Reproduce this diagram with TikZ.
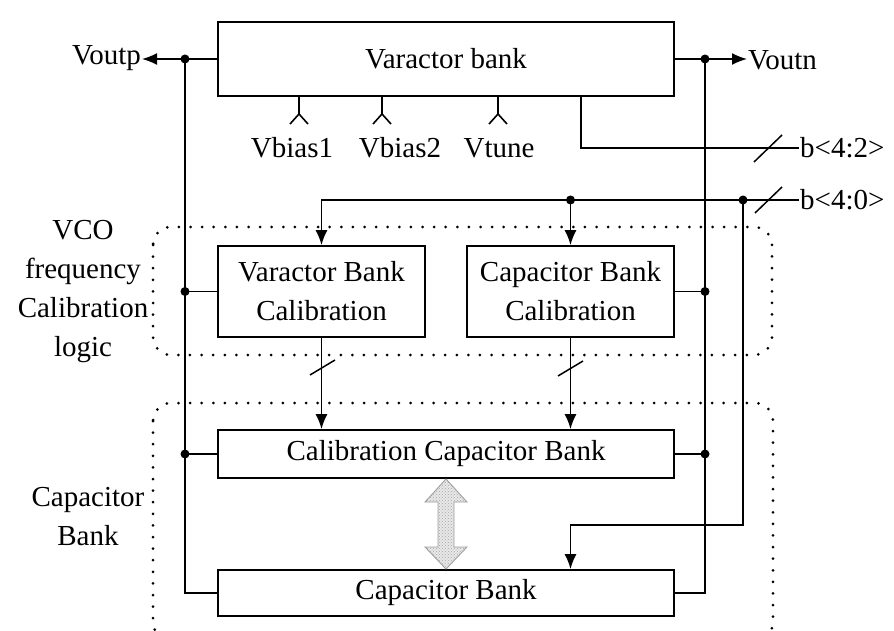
\documentclass[tikz,border=0pt]{standalone}
\usepackage{fontspec}
\setmainfont{Liberation Serif}
\newfontfamily\labelfont{Liberation Serif}
\usetikzlibrary{arrows.meta,calc,patterns}
\begin{document}
\begin{tikzpicture}[x=1pt,y=-1pt,
  txt/.style={font=\labelfont\fontsize{29}{39}\selectfont,inner sep=1pt,align=center},
  blk/.style={txt,draw,line width=1.8pt,inner sep=0pt},
  wire/.style={line width=1.6pt},
  arr/.style={wire,-{Latex[length=15pt,width=12pt]}},
  region/.style={line width=3pt,line cap=round,dash pattern=on 0pt off 11.6pt,rounded corners=18pt},
  slash/.style={line width=1.5pt}]
\useasboundingbox (0,0) rectangle (894,631);

% dotted grouping regions
\begin{scope}
  \clip (0,0) rectangle (894,631);
  \draw[region] (153,227) rectangle (772,355);
  \draw[region] (153,403) rectangle (773,640);
\end{scope}

% blocks
\node[blk,minimum width=456pt,minimum height=74pt] (VB)  at (446,59)   {Varactor bank};
\node[blk,minimum width=207pt,minimum height=91pt] (VBC) at (321.5,291.5) {Varactor Bank\\Calibration};
\node[blk,minimum width=207pt,minimum height=91pt] (CBC) at (570.5,291.5) {Capacitor Bank\\Calibration};
\node[blk,minimum width=456pt,minimum height=48pt] (CCB) at (446,454)  {Calibration Capacitor Bank};
\node[blk,minimum width=456pt,minimum height=46pt] (CB)  at (446,593)  {Capacitor Bank};

% group labels
\node[txt] (lblVCO) at (83,292) {VCO\\frequency\\Calibration\\logic};
\node[txt] (lblCap) at (88,517) {Capacitor\\Bank};

% outputs
\node[txt,anchor=east] (voutp) at (142,58) {Voutp};
\node[txt,anchor=west] (voutn) at (747,60) {Voutn};
\coordinate (dL) at (185,59);
\coordinate (dR) at (705,59);
\draw[arr] (VB.west) -- (voutp.east |- VB.west);
\draw[arr] (VB.east) -- (voutn.west |- VB.east);

% left output bus
\draw[wire] (dL) |- (CB.west);
\draw[wire] (VBC.west) -- (VBC.west -| dL);
\draw[wire] (CCB.west) -- (CCB.west -| dL);
\fill (dL) circle (4.5pt);
\fill (VBC.west -| dL) circle (4.5pt);
\fill (CCB.west -| dL) circle (4.5pt);

% right output bus
\draw[wire] (dR) |- (CB.east);
\draw[wire] (CBC.east) -- (CBC.east -| dR);
\draw[wire] (CCB.east) -- (CCB.east -| dR);
\fill (dR) circle (4.5pt);
\fill (CBC.east -| dR) circle (4.5pt);
\fill (CCB.east -| dR) circle (4.5pt);

% bias inputs
\foreach \x/\name/\lx in {299/Vbias1/292, 382/Vbias2/400, 498/Vtune/499}{
  \draw[wire] (\x,96) -- (\x,114) -- (\x-9,124);
  \draw[wire] (\x,114) -- (\x+9,124);
  \node[txt] at (\lx,148) {\name};
}

% control words
\node[txt,anchor=west] (b42) at (799,148) {b<4:2>};
\node[txt,anchor=west] (b40) at (799,200) {b<4:0>};
\coordinate (t42) at (581,96);
\draw[wire] (t42) |- (b42.west);
\draw[arr] (b40.west) -| (VBC.north);
\draw[arr] (CBC.north |- b40.west) -- (CBC.north);
\fill (CBC.north |- b40.west) circle (4.5pt);
\coordinate (d40) at (743,200);
\coordinate (turn) at (743,525);
\fill (d40) circle (4.5pt);
\draw[arr] (d40) -- (turn) -| (CB.north -| CBC.south);

% calibration buses into the calibration capacitor bank
\draw[arr] (VBC.south) -- (VBC.south |- CCB.north);
\draw[arr] (CBC.south) -- (CBC.south |- CCB.north);

% bus-width ticks
\coordinate (s42) at (768,148);
\coordinate (s40) at (768,200);
\coordinate (s1) at (322,368);
\coordinate (s2) at (570,369);
\draw[slash] ($(s42)+(-14,14)$) -- ($(s42)+(14,-13)$);
\draw[slash] ($(s40)+(-13,13)$) -- ($(s40)+(14,-13)$);
\draw[slash] ($(s1)+(-12,7)$) -- ($(s1)+(13,-8)$);
\draw[slash] ($(s2)+(-12,7)$) -- ($(s2)+(13,-8)$);

% two-way transfer arrow
\path[fill=gray!18]
  (446,479) -- (425,502) -- (438,502) -- (438,547) -- (425,547) -- (446,569)
  -- (467,547) -- (454,547) -- (454,502) -- (467,502) -- cycle;
\draw[line width=0.9pt,draw=gray!75,pattern=crosshatch dots,pattern color=gray!70]
  (446,479) -- (425,502) -- (438,502) -- (438,547) -- (425,547) -- (446,569)
  -- (467,547) -- (454,547) -- (454,502) -- (467,502) -- cycle;
\end{tikzpicture}
\end{document}
